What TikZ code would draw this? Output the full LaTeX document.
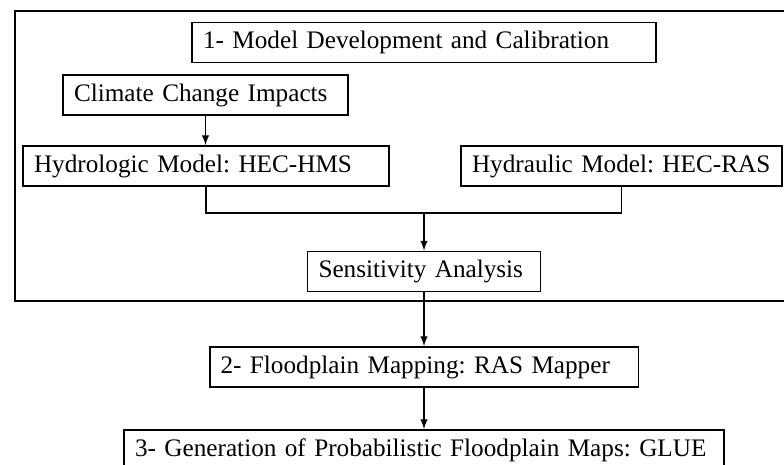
\documentclass[tikz,border=0pt]{standalone}
\usepackage{fontspec}
\setmainfont{Liberation Serif}
\usepackage{tikz}
\usetikzlibrary{positioning}
\usetikzlibrary{calc}
\frenchspacing

\tikzset{
	stage/.style = {draw, line width=1.1pt, inner xsep=0.22cm, inner ysep=0pt,
		minimum height=0.80cm, align=left, font=\fontsize{14.35}{17}\selectfont,
		execute at begin node={\hbox\bgroup}, execute at end node={\egroup}},
	link/.style  = {line width=0.9pt},
	flow/.style  = {line width=0.9pt, -latex},
}

\begin{document}
\begin{tikzpicture}[x=0.02cm, y=-0.02cm]
	
	% ------------------------------------------------
	% Ensure the dimensions of graphic are appropriate
	\useasboundingbox (0,0) rectangle (784,465);
	\clip (0,0) rectangle (784,465);
	
	% ------------------------------------------------
	% Outer frame of the first stage
	\draw[line width=1.1pt] (800,11) -- (15,11) -- (15,301) -- (800,301);
	
	% ----------------
	% Boxes
	\node[stage, text width=8.84cm] (Title)   at (424,42.5)  {1- Model Development and Calibration};
	\node[stage, text width=5.26cm] (Climate) at (205.5,95)  {Climate Change Impacts};
	\node[stage, text width=6.88cm] (HMS)     at (206,166)   {Hydrologic Model: HEC-HMS};
	\node[stage, text width=5.98cm] (RAS)     at (621.5,166) {Hydraulic Model: HEC-RAS};
	\node[stage, text width=4.22cm] (Sens)    at (424,271.5) {Sensitivity Analysis};
	\node[stage, text width=8.14cm] (Flood)   at (424,367)   {2- Floodplain Mapping: RAS Mapper};
	\node[stage, text width=11.56cm] (Glue)   at (424,450)   {3- Generation of Probabilistic Floodplain Maps: GLUE};
	
	% ----------------
	% Relevant coordinates
	\coordinate (Join) at (424,213);
	
	%%%%%%%%%%%%%%%%%%%%%%%%%%%%%%%%%%%%%%%%%
	% Connectors
	\draw[flow] (Climate) -- (Climate |- HMS.north);
	\draw[link] (HMS.south) |- (Join) -| (RAS.south);
	\draw[flow] (Join) -- (Join |- Sens.north);
	\draw[flow] (Sens) -- (Sens |- Flood.north);
	\draw[flow] (Flood) -- (Flood |- Glue.north);
	
\end{tikzpicture}
\end{document}
